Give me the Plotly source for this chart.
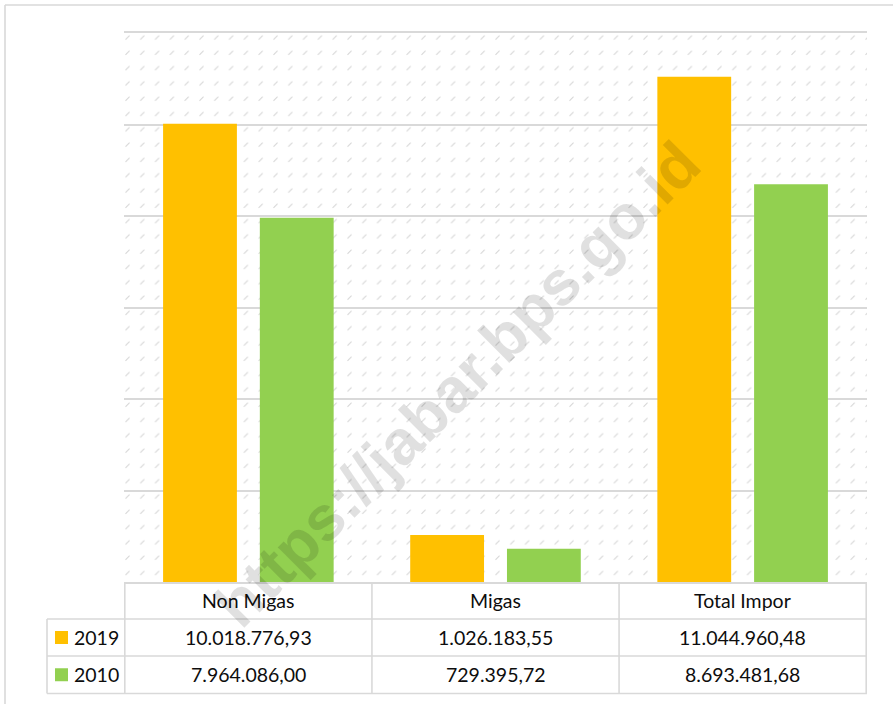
import base64
import plotly.graph_objects as go

# ---------------- data ----------------
categories = ["Non Migas", "Migas", "Total Impor"]
series_names = ["2019", "2010"]
values_2019 = [10018776.93, 1026183.55, 11044960.48]
values_2010 = [7964086.00, 729395.72, 8693481.68]
series_colors = ["#FFC000", "#92D050"]
y_ticks = [0, 2000000, 4000000, 6000000, 8000000, 10000000, 12000000]
watermark_text = "https://jabar.bps.go.id"

series_values = [values_2019, values_2010]

# ---------------- geometry ----------------
W, H = 893, 704
L, R, T, B = 124, 26, 33, 122
PW, PH = W - L - R, H - T - B
GRID = "#d9d9d9"
FONT = "Lato"
TXT = "#0d0d0d"


def px_x(px):
    return (px - L) / PW


def px_y(py):
    return (H - B - py) / PH


def fmt_id(v):
    s = f"{v:,.2f}"
    return s.replace(",", "#").replace(".", ",").replace("#", ".")


# background hatch pattern (decorative) as an svg image
svg = (
    f'<svg xmlns="http://www.w3.org/2000/svg" width="{PW}" height="{PH}" '
    f'viewBox="0 0 {PW} {PH}" preserveAspectRatio="none">'
    '<defs><pattern id="p" width="14.8" height="15.3" patternUnits="userSpaceOnUse">'
    '<line x1="1.5" y1="6.5" x2="5.5" y2="2.5" stroke="#d4d4d4" stroke-width="1"/>'
    '</pattern></defs>'
    f'<rect x="0" y="0" width="{PW}" height="{PH}" fill="url(#p)"/></svg>'
)
svg_uri = "data:image/svg+xml;base64," + base64.b64encode(svg.encode()).decode()

fig = go.Figure()
for name, vals, col in zip(series_names, series_values, series_colors):
    fig.add_trace(go.Bar(
        x=categories, y=vals, name=name,
        marker=dict(color=col, line=dict(width=0)),
        showlegend=False,
    ))

shapes = []
annotations = []

# table rows (pixel y of lines)
row_lines = [582, 619, 656, 693.5]
row_centers = [(row_lines[i] + row_lines[i + 1]) / 2 for i in range(3)]
left_col_x = 47

# vertical lines at category boundaries
for i in range(len(categories) + 1):
    shapes.append(dict(type="line", xref="x", yref="paper",
                       x0=i - 0.5, x1=i - 0.5,
                       y0=px_y(row_lines[0]), y1=px_y(row_lines[-1]),
                       line=dict(color=GRID, width=1.6)))
# left legend column line
shapes.append(dict(type="line", xref="paper", yref="paper",
                   x0=px_x(left_col_x), x1=px_x(left_col_x),
                   y0=px_y(row_lines[1]), y1=px_y(row_lines[-1]),
                   line=dict(color=GRID, width=1.6)))
# horizontal lines
for yl in row_lines[1:]:
    shapes.append(dict(type="line", xref="paper", yref="paper",
                       x0=px_x(left_col_x), x1=1,
                       y0=px_y(yl), y1=px_y(yl),
                       line=dict(color=GRID, width=1.6)))
# outer border (top and left)
shapes.append(dict(type="line", xref="paper", yref="paper",
                   x0=px_x(5), x1=px_x(W + 5), y0=px_y(5), y1=px_y(5),
                   line=dict(color=GRID, width=1.6)))
shapes.append(dict(type="line", xref="paper", yref="paper",
                   x0=px_x(5), x1=px_x(5), y0=px_y(5), y1=px_y(H + 5),
                   line=dict(color=GRID, width=1.6)))

# header texts
for c in categories:
    annotations.append(dict(x=c, xref="x", y=px_y(row_centers[0]), yref="paper",
                            text=c, showarrow=False, xanchor="center", yanchor="middle",
                            font=dict(family=FONT, size=19.5, color=TXT)))
# values and legend keys
for r, (name, vals, col) in enumerate(zip(series_names, series_values, series_colors)):
    yc = row_centers[r + 1]
    for c, v in zip(categories, vals):
        annotations.append(dict(x=c, xref="x", y=px_y(yc), yref="paper",
                                text=fmt_id(v), showarrow=False,
                                xanchor="center", yanchor="middle",
                                font=dict(family=FONT, size=19.5, color=TXT)))
    shapes.append(dict(type="rect", xref="paper", yref="paper",
                       x0=px_x(55), x1=px_x(68), y0=px_y(yc - 6.5), y1=px_y(yc + 6.5),
                       fillcolor=col, line=dict(width=0)))
    annotations.append(dict(x=px_x(72), xref="paper", y=px_y(yc), yref="paper",
                            text=name, showarrow=False, xanchor="left", yanchor="middle",
                            font=dict(family=FONT, size=19.5, color=TXT)))

# watermark
annotations.append(dict(x=px_x(457), xref="paper", y=px_y(384), yref="paper",
                        text="<b>" + watermark_text + "</b>", showarrow=False,
                        textangle=-45, xanchor="center", yanchor="middle",
                        font=dict(family="Liberation Sans", size=63,
                                  color="rgba(0,0,0,0.12)")))

fig.update_layout(
    width=W, height=H,
    margin=dict(l=L, r=R, t=T, b=B, pad=0),
    paper_bgcolor="white", plot_bgcolor="rgba(0,0,0,0)",
    bargap=0.217, bargroupgap=0.237, barmode="group",
    xaxis=dict(showticklabels=False, ticks="", showgrid=False, zeroline=False,
               showline=True, mirror=True, linecolor=GRID, linewidth=2),
    yaxis=dict(range=[0, 12000000], tickvals=y_ticks, showticklabels=False, ticks="",
               showgrid=True, gridcolor=GRID, gridwidth=2, zeroline=False,
               showline=False),
    images=[dict(source=svg_uri, xref="paper", yref="paper", x=0, y=1,
                 sizex=1, sizey=1, xanchor="left", yanchor="top",
                 sizing="stretch", layer="below")],
    shapes=shapes,
    annotations=annotations,
    showlegend=False,
)

fig.write_html("out.html", config={"displayModeBar": False},
               post_script="document.body.style.margin='0px';")
